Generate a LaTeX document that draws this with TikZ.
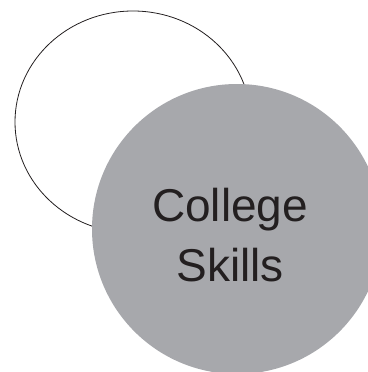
\documentclass[tikz,border=0pt]{standalone}
\usepackage{fontspec}
\setmainfont{Liberation Sans}
\usetikzlibrary{shapes.geometric}
\definecolor{discgray}{HTML}{A7A8AC}
\definecolor{inkdark}{HTML}{231F20}
\begin{document}
\begin{tikzpicture}[x=1pt, y=-1pt,
    outer ring/.style={draw=inkdark, line width=0.8pt, ellipse, inner sep=0pt,
      minimum width=236pt, minimum height=222pt},
    skill disc/.style={fill=discgray, circle, inner sep=0pt, minimum size=290pt},
    disc label/.style={text=inkdark, align=center, inner sep=0pt,
      font=\fontsize{46}{60}\selectfont}]

    \useasboundingbox (0,0) rectangle (367,372);

    % ================================================================================================
    % 圆
    % ================================================================================================
    \node [outer ring] (ring) at (133,122) {};
    \node [skill disc] (disc) at (237,229) {};

    % ================================================================================================
    % 标记
    % ================================================================================================
    \node [disc label] (skills) at (230,235) {College\\Skills};

  \end{tikzpicture}
\end{document}
